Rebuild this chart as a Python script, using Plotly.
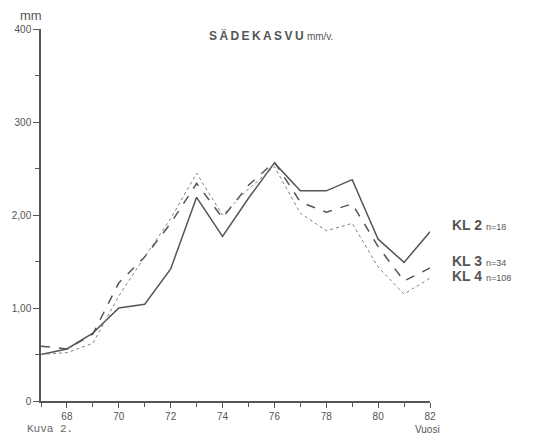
import plotly.graph_objects as go

years = list(range(67, 83))
kl2 = [50, 56, 73, 100, 104, 142, 219, 177, 218, 256, 226, 226, 238, 174, 149, 182]
kl3 = [59, 56, 72, 127, 155, 191, 234, 197, 232, 257, 214, 203, 212, 166, 129, 143]
kl4 = [50, 52, 62, 113, 155, 196, 245, 200, 228, 252, 202, 183, 191, 144, 115, 132]
labels = ["KL 2", "KL 3", "KL 4"]
counts = ["n=18", "n=34", "n=108"]
ytickvals = [0, 100, 200, 300, 400]
yticktext = ["0", "1,00", "2,00", "300", "400"]
xtickvals = list(range(68, 83, 2))

col = "#555555"
fig = go.Figure()
styles = ["solid", "dash", "dot"]
widths = [1.5, 1.5, 1.0]
colors = [col, col, "#808080"]
for name, vals, dsh, w, c in zip(labels, [kl2, kl3, kl4], styles, widths, colors):
    fig.add_trace(go.Scatter(x=years, y=vals, mode="lines", name=name,
                             line=dict(color=c, width=w, dash=dsh),
                             cliponaxis=False))

label_y = [kl2[-1] + 7, kl3[-1] + 8, kl4[-1] + 2]
for lab, n, yy in zip(labels, counts, label_y):
    fig.add_annotation(x=82, y=yy, xref="x", yref="y", xanchor="left", yanchor="middle",
                       xshift=20, showarrow=False,
                       text=f"<b>{lab}</b> <span style='font-size:9px'>{n}</span>",
                       font=dict(size=14, color=col, family="Liberation Sans"))

fig.add_annotation(x=0.5, y=1.0, xref="paper", yref="paper", yanchor="middle", yshift=-6,
                   xshift=35, showarrow=False,
                   text="<b>S\u2009Ä\u2009D\u2009E\u2009K\u2009A\u2009S\u2009V\u2009U</b> <span style='font-size:10px'>mm/v.</span>",
                   font=dict(size=12, color=col, family="Liberation Sans"))
fig.add_annotation(x=0, y=1.0, xref="paper", yref="paper", xanchor="right", yanchor="bottom",
                   xshift=3, yshift=4, showarrow=False, text="mm",
                   font=dict(size=13, color=col, family="Liberation Sans"))
fig.add_annotation(x=1, y=0, xref="paper", yref="paper", xanchor="right", yanchor="middle",
                   yshift=-28, xshift=12, showarrow=False, text="Vuosi",
                   font=dict(size=10, color=col, family="Liberation Sans"))
fig.add_annotation(x=0, y=0, xref="paper", yref="paper", xanchor="left", yanchor="middle",
                   xshift=-16, yshift=-28, showarrow=False, text="Kuva 2.",
                   font=dict(size=11, color="#666666", family="Liberation Mono"))

fig.update_layout(
    width=533, height=437, margin=dict(l=39, r=103, t=29, b=36),
    plot_bgcolor="white", paper_bgcolor="white", showlegend=False,
    font=dict(family="Liberation Sans", size=10, color=col),
)
fig.update_xaxes(range=[67, 82], tickvals=xtickvals, ticks="outside", ticklen=5,
                 tickcolor=col, showline=True, linecolor=col, linewidth=1.5,
                 showgrid=False, zeroline=False,
                 minor=dict(dtick=1, tick0=67, ticks="outside", ticklen=4, tickcolor=col),
                 tickfont=dict(size=10, color=col))
fig.update_yaxes(range=[0, 400], tickvals=ytickvals, ticktext=yticktext, ticks="outside",
                 ticklen=6, tickcolor=col, showline=True, linecolor=col, linewidth=1.5,
                 showgrid=False, zeroline=False,
                 minor=dict(dtick=50, tick0=0, ticks="outside", ticklen=4, tickcolor=col),
                 tickfont=dict(size=10, color=col))

fig.write_html("out.html")
